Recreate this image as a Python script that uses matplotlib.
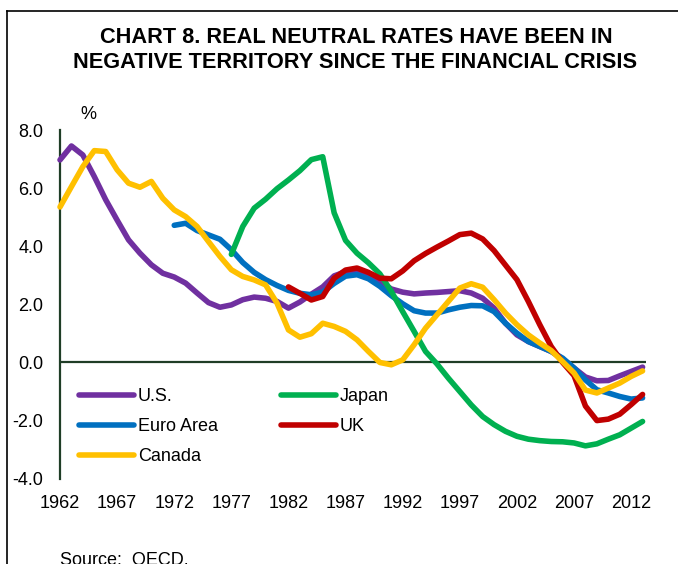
import numpy as np
import matplotlib
matplotlib.use("Agg")
import matplotlib.pyplot as plt
from matplotlib.lines import Line2D

plt.rcParams['font.family'] = ['Liberation Sans', 'DejaVu Sans']
plt.rcParams['axes.unicode_minus'] = False

nan = np.nan
years = list(range(1962, 2014))

us = [6.97, 7.45, 7.14, 6.4, 5.6, 4.9, 4.22, 3.76, 3.36, 3.07,
      2.94, 2.73, 2.39, 2.06, 1.9, 1.98, 2.16, 2.25, 2.21, 2.1,
      1.87, 2.08, 2.35, 2.6, 2.98, 3.12, 3.17, 3.05, 2.79, 2.53,
      2.42, 2.36, 2.39, 2.41, 2.44, 2.47, 2.39, 2.21, 1.87, 1.35,
      0.95, 0.72, 0.55, 0.38, 0.12, -0.19, -0.5, -0.63, -0.62, -0.46,
      -0.31, -0.16]

euro = [nan] * 10 + [
      4.72, 4.79, 4.54, 4.39, 4.24, 3.88, 3.44, 3.1, 2.85, 2.65,
      2.48, 2.38, 2.33, 2.42, 2.72, 2.97, 3.02, 2.88, 2.62, 2.3,
      2.02, 1.78, 1.7, 1.7, 1.81, 1.9, 1.96, 1.95, 1.75, 1.35,
      1.01, 0.72, 0.55, 0.38, 0.15, -0.19, -0.6, -0.94, -1.05, -1.17,
      -1.26, -1.22]

japan = [nan] * 15 + [
      3.72, 4.68, 5.31, 5.62, 5.98,
      6.28, 6.6, 6.98, 7.08, 5.15, 4.2, 3.76, 3.43, 3.05, 2.45,
      1.75, 1.07, 0.38, -0.05, -0.54, -1.0, -1.46, -1.86, -2.14, -2.37,
      -2.54, -2.64, -2.69, -2.72, -2.73, -2.77, -2.87, -2.8, -2.64, -2.49,
      -2.26, -2.03]

uk = [nan] * 20 + [
      2.6, 2.38, 2.15, 2.27, 2.9, 3.18, 3.25, 3.1, 2.9, 2.88,
      3.15, 3.5, 3.75, 3.97, 4.18, 4.4, 4.45, 4.25, 3.85, 3.35,
      2.85, 2.1, 1.3, 0.55, 0.0, -0.45, -1.5, -2.0, -1.95, -1.78,
      -1.45, -1.1]

canada = [5.35, 6.05, 6.74, 7.29, 7.26, 6.63, 6.17, 6.03, 6.23, 5.65,
          5.25, 5.02, 4.68, 4.16, 3.65, 3.19, 2.96, 2.84, 2.67, 2.04,
          1.12, 0.87, 0.99, 1.35, 1.24, 1.07, 0.78, 0.38, 0.0, -0.08,
          0.09, 0.61, 1.18, 1.64, 2.1, 2.56, 2.71, 2.59, 2.16, 1.7,
          1.3, 0.95, 0.67, 0.41, 0.03, -0.36, -0.95, -1.05, -0.88, -0.71,
          -0.48, -0.29]

xtick_years = list(range(1962, 2013, 5))
ytick_vals = [-4, -2, 0, 2, 4, 6, 8]
ytick_labels = ["-4.0", "-2.0", "0.0", "2.0", "4.0", "6.0", "8.0"]

W, H = 678, 564
fig = plt.figure(figsize=(W / 100, H / 100), dpi=100)
fig.patch.set_facecolor('white')

ax = fig.add_axes([60 / W, (H - 478.7) / H, 586 / W, 348.7 / H])
axis_col = '#1f3d26'

series = [
    ("U.S.", us, '#7030A0'),
    ("Euro Area", euro, '#0070C0'),
    ("Japan", japan, '#00B050'),
    ("UK", uk, '#C00000'),
    ("Canada", canada, '#FFC000'),
]
handles = {}
for i, (name, vals, col) in enumerate(series):
    ln, = ax.plot(years, vals, color=col, lw=4.0, solid_capstyle='round',
                  solid_joinstyle='round', clip_on=False, zorder=3 + i)
    handles[name] = ln

ax.set_xlim(1962, 2013.3)
ax.set_ylim(-4, 8)
for s in ['top', 'right', 'bottom']:
    ax.spines[s].set_visible(False)
ax.spines['left'].set_color(axis_col)
ax.spines['left'].set_linewidth(1.6)
ax.axhline(0, color=axis_col, lw=1.6, zorder=2)

ax.set_yticks(ytick_vals)
ax.set_yticklabels(ytick_labels)
ax.set_xticks(xtick_years)
ax.set_xticklabels([str(y) for y in xtick_years])
ax.tick_params(axis='both', length=0, labelsize=13, colors='black')
ax.tick_params(axis='y', pad=12)
ax.tick_params(axis='x', pad=12)

order = ["U.S.", "Euro Area", "Canada", "Japan", "UK"]
leg = fig.legend([handles[n] for n in order], order, ncol=2,
                 loc='upper left', bbox_to_anchor=(79 / W, 1 - 388 / H),
                 frameon=False, fontsize=13, handlelength=3.05,
                 handletextpad=0.2, columnspacing=3.5, labelspacing=0.72,
                 borderpad=0, borderaxespad=0)
for l in leg.get_lines():
    l.set_linewidth(4.0)
    l.set_solid_capstyle('round')

fig.text(356 / W, 1 - 43.3 / H, "CHART 8. REAL NEUTRAL RATES HAVE BEEN IN",
         ha='center', va='baseline', fontsize=15.7, fontweight='bold')
fig.text(355 / W, 1 - 68.3 / H, "NEGATIVE TERRITORY SINCE THE FINANCIAL CRISIS",
         ha='center', va='baseline', fontsize=15.7, fontweight='bold')
fig.text(88.7 / W, 1 - 119 / H, "%", ha='center', va='baseline', fontsize=13)
fig.text(60 / W, 1 - 565 / H, "Source:  OECD.", ha='left', va='baseline',
         fontsize=13)

fig.add_artist(Line2D([7 / W, 1], [1 - 10.7 / H, 1 - 10.7 / H],
                      transform=fig.transFigure, color='black', lw=1.2))
fig.add_artist(Line2D([7.3 / W, 7.3 / W], [1 - 10.7 / H, 0],
                      transform=fig.transFigure, color='black', lw=1.2))

fig.savefig("out.png", dpi=100, facecolor='white')
